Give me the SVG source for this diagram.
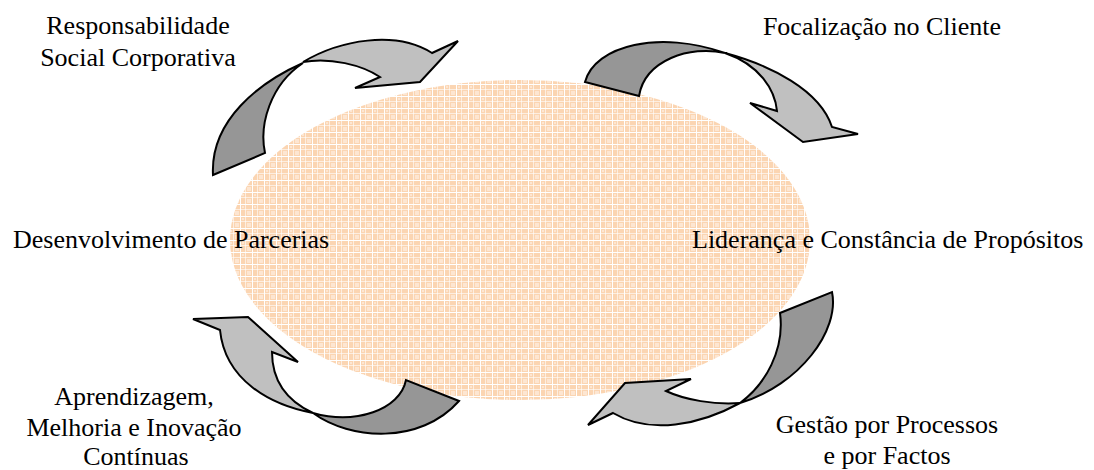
<svg xmlns="http://www.w3.org/2000/svg" width="1094" height="470" viewBox="0 0 1094 470">
  <style>
    .lbl { font-family: "Liberation Serif", "Times New Roman", serif; font-size: 26px; fill: #000; }
    .mid { text-anchor: middle; }
    .dark { fill: #969696; stroke: #000; stroke-width: 2; stroke-linejoin: miter; }
    .light { fill: #c0c0c0; stroke: #000; stroke-width: 2; stroke-linejoin: miter; }
  </style>
  <defs>
    <pattern id="plaid" width="12" height="12" patternUnits="userSpaceOnUse">
      <rect width="12" height="12" fill="#fbd5b2"/>
      <rect x="7" y="7" width="4" height="4" fill="#fde6d2"/>
      <rect x="2" y="2" width="2" height="2" fill="#fde6d2"/>
      <rect x="0" y="0" width="1" height="12" fill="#ffffff"/>
      <rect x="0" y="0" width="12" height="1" fill="#ffffff"/>
      <rect x="5" y="0" width="1" height="12" fill="#ffffff" opacity="0.6"/>
      <rect x="0" y="5" width="12" height="1" fill="#ffffff" opacity="0.6"/>
    </pattern>
  </defs>
  <rect width="1094" height="470" fill="#ffffff"/>

  <g id="center">
    <ellipse cx="520" cy="240" rx="290" ry="160" fill="url(#plaid)"/>
  </g>

  <g id="node-responsabilidade">
    <text class="lbl mid" x="138" y="34">Responsabilidade</text>
    <text class="lbl mid" x="138" y="66">Social Corporativa</text>
  </g>
  <g id="node-focalizacao">
    <text class="lbl mid" x="882" y="35">Focalização no Cliente</text>
  </g>
  <g id="node-parcerias">
    <text class="lbl" x="13" y="248">Desenvolvimento de Parcerias</text>
  </g>
  <g id="node-lideranca">
    <text class="lbl" x="692" y="248">Liderança e Constância de Propósitos</text>
  </g>
  <g id="node-aprendizagem">
    <text class="lbl mid" x="134" y="405">Aprendizagem,</text>
    <text class="lbl mid" x="134" y="436">Melhoria e Inovação</text>
    <text class="lbl mid" x="136" y="465">Contínuas</text>
  </g>
  <g id="node-gestao">
    <text class="lbl mid" x="887" y="433">Gestão por Processos</text>
    <text class="lbl mid" x="887" y="464">e por Factos</text>
  </g>

  <g id="connectors">
    <!-- top-left arrow -->
    <path class="dark" d="M213,175 L265,153 C259,125 270,85 303,63 C260,82 210,120 213,175 Z"/>
    <path class="light" d="M303,62 C340,40 395,30 432,53 L458,41 L420,82 L355,88 L380,77 C362,65 330,57 303,62 Z"/>
    <!-- top-right arrow -->
    <path class="dark" d="M585,82 C595,45 660,30 725,53 C690,45 645,60 639,96 Z"/>
    <path class="light" d="M725,53 C770,65 820,90 832,127 L858,134 L803,142 L750,103 L777,111 C775,90 760,65 725,53 Z"/>
    <!-- bottom-right arrow -->
    <path class="dark" d="M832,292 C840,330 800,385 740,403 C765,385 785,350 780,313 Z"/>
    <path class="light" d="M740,403 C700,425 650,435 613,413 L588,425 L625,383 L691,379 L666,391 C685,400 715,405 740,403 Z"/>
    <!-- bottom-left arrow -->
    <path class="light" d="M313,413 C270,405 225,380 220,330 L193,319 L248,317 L298,362 L272,352 C272,380 285,400 313,413 Z"/>
    <path class="dark" d="M313,413 C350,440 420,445 459,401 L406,380 C400,410 355,425 313,413 Z"/>
  </g>
</svg>
